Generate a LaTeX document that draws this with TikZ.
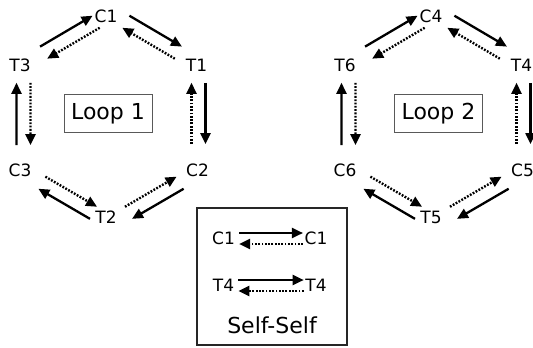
\documentclass[tikz,border=0pt]{standalone}
\usepackage{fontspec}
\setmainfont{DejaVu Sans}
\usetikzlibrary{arrows.meta,calc}
\tikzset{
  lbl/.style={inner sep=0pt, font=\fontsize{17}{18}\selectfont},
  bigtxt/.style={inner sep=0pt, font=\fontsize{22}{24}\selectfont},
  loopbox/.style={draw=black!65, line width=1pt, minimum width=88pt, minimum height=38pt, bigtxt},
  selfbox/.style={draw=black!85, line width=1.3pt, minimum width=150pt, minimum height=137pt, inner sep=0pt},
  solidarr/.style={line width=2.3pt, -{Triangle[length=11pt,width=10pt]}},
  dotarr/.style={line width=2.4pt, dash pattern=on 1.8pt off 1.5pt, -{Triangle[length=11pt,width=10pt]}},
}
\newcommand\arrpair[4]{%
  \draw[solidarr] ($(#1)!#3!(#2)!7pt!90:(#2)$) -- ($(#1)!#4!(#2)!7pt!-90:(#1)$);
  \draw[dotarr] ($(#1)!#4!(#2)!7pt!90:(#1)$) -- ($(#1)!#3!(#2)!7pt!-90:(#2)$);
}
\newcommand\hexloop[9]{%
  \begin{scope}[shift={(#1,0)}]
    \coordinate (v#2) at (111,13);
    \coordinate (v#3) at (198.5,64.5);
    \coordinate (v#4) at (198.5,172);
    \coordinate (v#5) at (111,223);
    \coordinate (v#6) at (23.5,172);
    \coordinate (v#7) at (23.5,64.5);
    \node[lbl] (#2) at (106,16.5) {#2};
    \node[lbl] (#3) at (196.5,65.5) {#3};
    \node[lbl] (#4) at (197.5,170) {#4};
    \node[lbl] (#5) at (106,217) {#5};
    \node[lbl] (#6) at (20,170) {#6};
    \node[lbl] (#7) at (20,65.5) {#7};
    \node[loopbox] (box#2) at (#9,113.5) {#8};
    \arrpair{v#2}{v#3}{0.17}{0.77}
    \arrpair{v#3}{v#4}{0.17}{0.74}
    \arrpair{v#4}{v#5}{0.21}{0.80}
    \arrpair{v#5}{v#6}{0.20}{0.79}
    \arrpair{v#6}{v#7}{0.25}{0.83}
    \arrpair{v#7}{v#2}{0.23}{0.83}
  \end{scope}}
\begin{document}
\begin{tikzpicture}[x=1pt,y=-1pt]
  \useasboundingbox[fill=white] (0,0) rectangle (533,348);
  \hexloop{0}{C1}{T1}{C2}{T2}{C3}{T3}{Loop 1}{108}
  \hexloop{325}{C4}{T4}{C5}{T5}{C6}{T6}{Loop 2}{113.5}
  % self-self box
  \node[selfbox] (sbox) at (272,276.5) {};
  \node[lbl] (sC1a) at (223.5,238.5) {C1};
  \node[lbl] (sC1b) at (316,238.5) {C1};
  \node[lbl] (sT4a) at (223.5,285.5) {T4};
  \node[lbl] (sT4b) at (316,285.5) {T4};
  \node[bigtxt] (slabel) at (272,325) {Self-Self};
  \draw[solidarr] ([xshift=4pt,yshift=5.5pt]sC1a.east) -- ([xshift=-1.5pt,yshift=5.5pt]sC1b.west);
  \draw[dotarr] ([xshift=-1.5pt,yshift=-5.5pt]sC1b.west) -- ([xshift=4pt,yshift=-5.5pt]sC1a.east);
  \draw[solidarr] ([xshift=4pt,yshift=5.5pt]sT4a.east) -- ([xshift=-1.5pt,yshift=5.5pt]sT4b.west);
  \draw[dotarr] ([xshift=-1.5pt,yshift=-5.5pt]sT4b.west) -- ([xshift=4pt,yshift=-5.5pt]sT4a.east);
\end{tikzpicture}
\end{document}
